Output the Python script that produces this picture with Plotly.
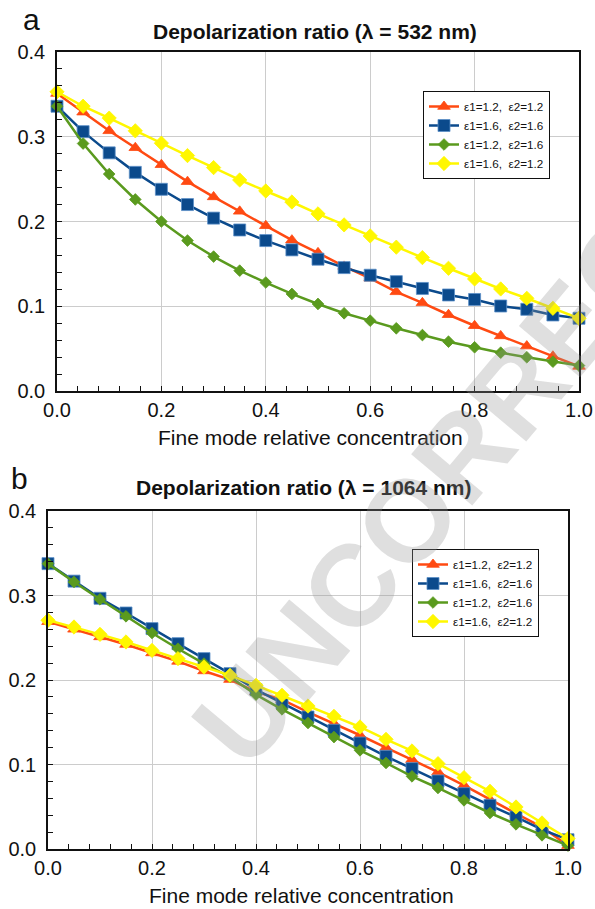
import plotly.graph_objects as go

x_frac = [0.0, 0.05, 0.1, 0.15, 0.2, 0.25, 0.3, 0.35, 0.4, 0.45, 0.5,
          0.55, 0.6, 0.65, 0.7, 0.75, 0.8, 0.85, 0.9, 0.95, 1.0]

series_names = ["ε1=1.2,  ε2=1.2", "ε1=1.6,  ε2=1.6", "ε1=1.2,  ε2=1.6", "ε1=1.6,  ε2=1.2"]

# Panel a: lambda = 532 nm
a_red = [0.351, 0.329, 0.307, 0.287, 0.267, 0.247, 0.229, 0.212, 0.195, 0.178, 0.163,
         0.147, 0.133, 0.117, 0.104, 0.090, 0.077, 0.065, 0.053, 0.041, 0.029]
a_blue = [0.336, 0.306, 0.281, 0.258, 0.238, 0.220, 0.204, 0.190, 0.1775, 0.1665, 0.1555,
          0.1456, 0.1366, 0.129, 0.121, 0.1133, 0.108, 0.1003, 0.0964, 0.0897, 0.0858]
a_green = [0.336, 0.292, 0.256, 0.226, 0.200, 0.1775, 0.1586, 0.142, 0.128, 0.1145, 0.1027,
           0.0917, 0.083, 0.074, 0.066, 0.0582, 0.0516, 0.0452, 0.0398, 0.0346, 0.030]
a_yellow = [0.353, 0.336, 0.322, 0.307, 0.2924, 0.2778, 0.2636, 0.249, 0.236, 0.223, 0.209,
            0.196, 0.183, 0.1697, 0.1574, 0.1448, 0.1322, 0.1204, 0.1094, 0.0976, 0.0858]

# Panel b: lambda = 1064 nm
b_red = [0.269, 0.260, 0.251, 0.242, 0.232, 0.222, 0.2107, 0.2005, 0.186, 0.1768, 0.162,
         0.1484, 0.1346, 0.120, 0.1058, 0.0911, 0.0754, 0.0584, 0.042, 0.026, 0.004]
b_blue = [0.3377, 0.317, 0.2967, 0.2793, 0.2608, 0.243, 0.2253, 0.2076, 0.1886, 0.1728, 0.1562,
          0.1405, 0.1254, 0.1097, 0.0951, 0.0805, 0.0655, 0.0517, 0.0379, 0.023, 0.011]
b_green = [0.3377, 0.316, 0.2955, 0.2754, 0.2556, 0.237, 0.2194, 0.2036, 0.1827, 0.1653, 0.1491,
           0.1325, 0.1168, 0.1018, 0.086, 0.0722, 0.0576, 0.0426, 0.0292, 0.0162, 0.004]
b_yellow = [0.2707, 0.2627, 0.254, 0.245, 0.235, 0.2253, 0.2154, 0.2055, 0.1937, 0.1819, 0.1692,
            0.157, 0.1444, 0.1298, 0.116, 0.101, 0.0845, 0.0683, 0.0497, 0.0308, 0.0123]

x_ticks = [0.0, 0.2, 0.4, 0.6, 0.8, 1.0]
y_ticks = [0.0, 0.1, 0.2, 0.3, 0.4]

colors = ["#FF4A12", "#0B4A8C", "#5A9A1E", "#FFF700"]
symbols = ["triangle-up", "square", "diamond", "diamond"]
msizes = [11, 12, 9, 11]
line_colors_marker = ["#FF4A12", "#5C8FC8", "#5A9A1E", "#FFF700"]

W, H = 595, 909
def px_x(p):
    return p / W
def px_y(p):
    return 1 - p / H

fig = go.Figure()
panel_data = [
    ([a_red, a_blue, a_green, a_yellow], "x", "y", "legend"),
    ([b_red, b_blue, b_green, b_yellow], "x2", "y2", "legend2"),
]
for data, xa, ya, lg in panel_data:
    for i, ys in enumerate(data):
        fig.add_trace(go.Scatter(
            x=x_frac, y=ys, mode="lines+markers", name=series_names[i],
            line=dict(color=colors[i], width=2.5),
            marker=dict(symbol=symbols[i], size=msizes[i], color=colors[i],
                        line=dict(color=line_colors_marker[i], width=0.8)),
            xaxis=xa, yaxis=ya, legend=lg, cliponaxis=False,
        ))

font_main = "Liberation Sans, Arial, sans-serif"
axis_common = dict(
    showline=True, linecolor="#111", linewidth=1.6, mirror=True,
    showgrid=True, gridcolor="#cccccc", gridwidth=1,
    ticks="inside", ticklen=5, tickcolor="#111", tickwidth=1,
    tickfont=dict(family=font_main, size=20, color="#111"),
    zeroline=False, automargin=False,
)

fig.update_layout(
    width=W, height=H,
    margin=dict(l=0, r=0, t=0, b=0),
    paper_bgcolor="white", plot_bgcolor="white",
    font=dict(family=font_main, color="#111"),
    xaxis=dict(domain=[px_x(57), px_x(579)], range=[0, 1], anchor="y",
               tickvals=x_ticks, ticktext=[f"{v:.1f}" for v in x_ticks],
               minor=dict(dtick=0.04, ticks="inside", ticklen=5, tickcolor="#111", showgrid=False),
               **axis_common),
    yaxis=dict(domain=[px_y(391), px_y(52)], range=[0, 0.4], anchor="x",
               tickvals=y_ticks, ticktext=[f"{v:.1f}" for v in y_ticks], ticklabelstandoff=6,
               minor=dict(dtick=0.02, ticks="inside", ticklen=5, tickcolor="#111", showgrid=False),
               **axis_common),
    xaxis2=dict(domain=[px_x(48), px_x(568)], range=[0, 1], anchor="y2",
                tickvals=x_ticks, ticktext=[f"{v:.1f}" for v in x_ticks],
                minor=dict(dtick=0.04, ticks="inside", ticklen=5, tickcolor="#111", showgrid=False),
                **axis_common),
    yaxis2=dict(domain=[px_y(849), px_y(511)], range=[0, 0.4], anchor="x2",
                tickvals=y_ticks, ticktext=[f"{v:.1f}" for v in y_ticks], ticklabelstandoff=6,
                minor=dict(dtick=0.02, ticks="inside", ticklen=5, tickcolor="#111", showgrid=False),
                **axis_common),
    legend=dict(x=px_x(423), y=px_y(91), xanchor="left", yanchor="top",
                bgcolor="white", bordercolor="#111", borderwidth=1,
                font=dict(family=font_main, size=11.7, color="#111"),
                tracegroupgap=0, itemwidth=30),
    legend2=dict(x=px_x(412), y=px_y(549), xanchor="left", yanchor="top",
                 bgcolor="white", bordercolor="#111", borderwidth=1,
                 font=dict(family=font_main, size=11.7, color="#111"),
                 tracegroupgap=0, itemwidth=30),
    showlegend=True,
)

annots = [
    dict(text="a", x=px_x(31), y=px_y(20), size=30),
    dict(text="b", x=px_x(19), y=px_y(478), size=30),
    dict(text="<b>Depolarization ratio (λ = 532 nm)</b>", x=px_x(315), y=px_y(31), size=21),
    dict(text="<b>Depolarization ratio (λ = 1064 nm)</b>", x=px_x(304), y=px_y(487), size=21),
    dict(text="Fine mode relative concentration", x=px_x(310), y=px_y(437), size=21),
    dict(text="Fine mode relative concentration", x=px_x(301), y=px_y(895), size=21),
]
for a in annots:
    fig.add_annotation(text=a["text"], x=a["x"], y=a["y"], xref="paper", yref="paper",
                       xanchor="center", yanchor="middle", showarrow=False,
                       font=dict(family=font_main, size=a["size"], color="#111"))

# watermark
fig.add_annotation(text="<b>UNCORRECTED</b>", x=px_x(507), y=px_y(402), xref="paper", yref="paper",
                   xanchor="center", yanchor="middle", showarrow=False, textangle=-50,
                   font=dict(family=font_main, size=116, color="rgba(150,150,150,0.3)"))

fig.write_html("out.html")
